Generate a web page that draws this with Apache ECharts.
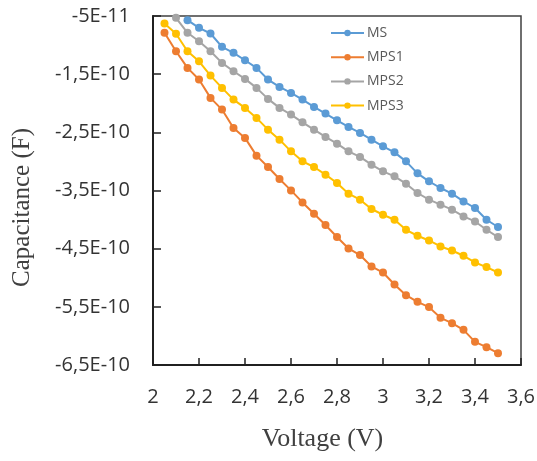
<!DOCTYPE html>
<html>
<head>
<meta charset="utf-8">
<script src="https://cdn.jsdelivr.net/npm/echarts@6/dist/echarts.min.js"></script>
<style>html,body{margin:0;padding:0;background:#fff}#c{width:537px;height:461px}</style>
</head>
<body>
<div id="c"></div>
<script>
// Voltage (V)
var voltage = [2.05,2.10,2.15,2.20,2.25,2.30,2.35,2.40,2.45,2.50,2.55,2.60,2.65,2.70,2.75,2.80,2.85,2.90,2.95,3.00,3.05,3.10,3.15,3.20,3.25,3.30,3.35,3.40,3.45,3.50];
// Capacitance in units of 1E-10 F (null = outside the plotted range)
var msCap   = [null,null,-0.572,-0.703,-0.801,-1.030,-1.133,-1.261,-1.392,-1.593,-1.719,-1.822,-1.937,-2.063,-2.178,-2.293,-2.407,-2.510,-2.626,-2.741,-2.844,-2.999,-3.205,-3.343,-3.457,-3.555,-3.687,-3.801,-4.003,-4.128];
var mps1Cap = [-0.789,-1.106,-1.392,-1.593,-1.908,-2.109,-2.424,-2.596,-2.901,-3.096,-3.302,-3.498,-3.705,-3.899,-4.094,-4.300,-4.497,-4.610,-4.806,-4.910,-5.116,-5.299,-5.414,-5.505,-5.689,-5.781,-5.896,-6.102,-6.194,-6.297];
var mps2Cap = [null,-0.531,-0.789,-0.934,-1.106,-1.306,-1.450,-1.581,-1.736,-1.925,-2.080,-2.195,-2.328,-2.454,-2.579,-2.695,-2.827,-2.923,-3.056,-3.171,-3.257,-3.383,-3.543,-3.658,-3.744,-3.830,-3.946,-4.032,-4.175,-4.300];
var mps3Cap = [-0.629,-0.806,-1.106,-1.278,-1.524,-1.736,-1.937,-2.080,-2.252,-2.454,-2.626,-2.827,-2.999,-3.096,-3.228,-3.371,-3.555,-3.658,-3.818,-3.917,-4.003,-4.175,-4.278,-4.359,-4.462,-4.531,-4.622,-4.737,-4.817,-4.910];
var seriesNames = ['MS','MPS1','MPS2','MPS3'];
var seriesColors = ['#5B9BD5','#ED7D31','#A5A5A5','#FFC000'];
var xTicks = {min: 2, max: 3.6, step: 0.2};
var yTicks = {min: -6.5, max: -0.5, step: 1}; // units of 1E-10 F

function pairs(vals){
  var out = [];
  for (var i = 0; i < voltage.length; i++) if (vals[i] !== null) out.push([voltage[i], vals[i]]);
  return out;
}
function sciLabel(v){
  var m = v, e = -10;
  while (Math.abs(m) < 1 && m !== 0) { m *= 10; e -= 1; }
  m = Number(m.toFixed(3));
  return String(m).replace('.', ',') + 'E' + e;
}
var allVals = [msCap, mps1Cap, mps2Cap, mps3Cap];

var chart = echarts.init(document.getElementById('c'), null, {renderer: 'canvas'});
chart.setOption({
  animation: false,
  backgroundColor: '#fff',
  grid: {left: 153, right: 16, top: 16, bottom: 96, show: true, borderColor: '#404040', borderWidth: 1.5,
         containLabel: false, outerBoundsMode: 'none'},
  legend: {
    orient: 'vertical', left: 325, top: 21, itemGap: 10.2, itemWidth: 33, itemHeight: 8,
    textStyle: {fontFamily: 'Open Sans', fontSize: 14, color: '#595959', padding: [0,0,0,-2]},
    data: seriesNames
  },
  xAxis: {
    type: 'value', min: xTicks.min, max: xTicks.max, interval: xTicks.step,
    name: 'Voltage (V)', nameLocation: 'middle', nameGap: 61,
    nameTextStyle: {fontFamily: 'Liberation Serif', fontSize: 26, color: '#404040', padding: [0, 29, 0, 0]},
    axisLine: {lineStyle: {color: '#202020', width: 2}},
    axisTick: {inside: true, length: 7, lineStyle: {color: '#202020', width: 1.5}},
    splitLine: {show: false},
    axisLabel: {margin: 22, fontFamily: 'Open Sans', fontSize: 20, color: '#333',
      formatter: function(v){ return String(Number(v.toFixed(2))).replace('.', ','); }}
  },
  yAxis: {
    type: 'value', min: yTicks.min, max: yTicks.max, interval: yTicks.step,
    name: 'Capacitance (F)', nameLocation: 'middle', nameGap: 118, nameRotate: 90,
    nameTextStyle: {fontFamily: 'Liberation Serif', fontSize: 25, color: '#404040', padding: [0, 34, 0, 0]},
    axisLine: {lineStyle: {color: '#202020', width: 2}},
    axisTick: {inside: true, length: 8, lineStyle: {color: '#202020', width: 1.5}},
    splitLine: {show: false},
    axisLabel: {margin: 23, fontFamily: 'Open Sans', fontSize: 20, color: '#333', formatter: sciLabel}
  },
  series: seriesNames.map(function(n, k){
    return {
      name: n, type: 'line', data: pairs(allVals[k]),
      symbol: 'circle', symbolSize: 8, clip: true,
      lineStyle: {color: seriesColors[k], width: 2},
      itemStyle: {color: seriesColors[k]}
    };
  })
});
</script>
</body>
</html>
